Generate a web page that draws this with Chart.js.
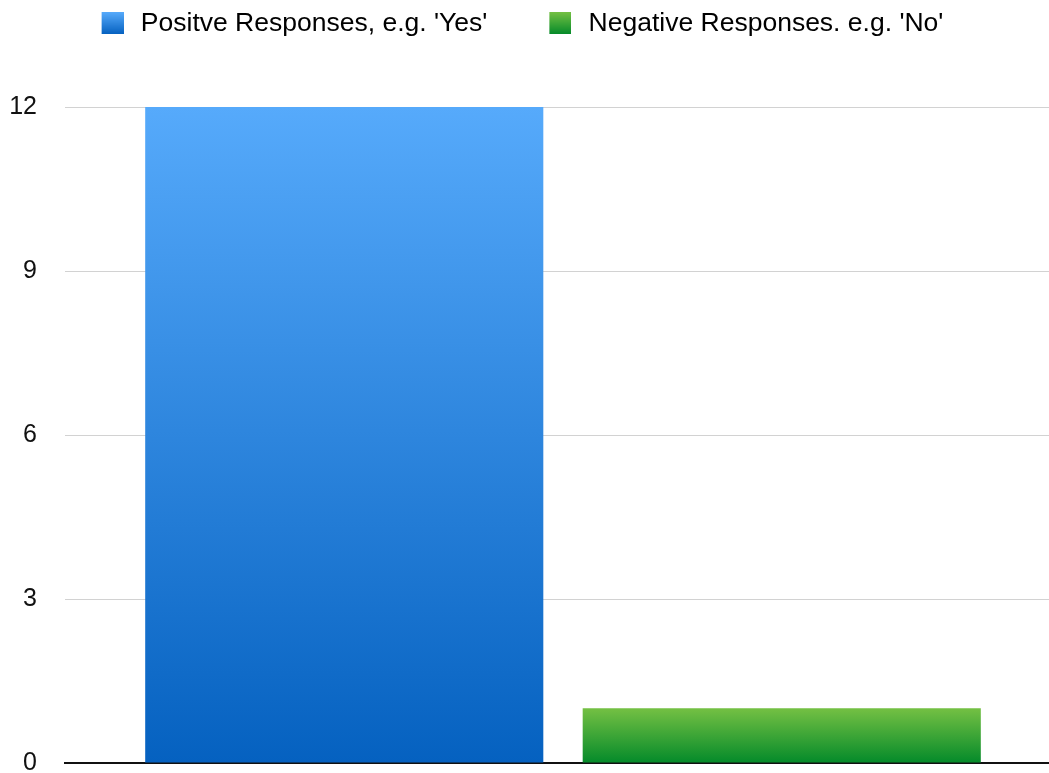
<!DOCTYPE html>
<html><head><meta charset="utf-8">
<script src="https://cdn.jsdelivr.net/npm/chart.js@4"></script>
<style>
html,body{margin:0;padding:0;background:#fff;overflow:hidden}
#wrap{position:relative;width:1049px;height:773px;overflow:hidden;background:#fff}
#c{position:absolute;left:-68px;top:0}
</style></head>
<body><div id="wrap"><canvas id="c" width="1129" height="773"></canvas></div>
<script>
const categories = [''];
const seriesLabels = ["Positve Responses, e.g. 'Yes'", "Negative Responses. e.g. 'No'"];
const positiveValues = [12];
const negativeValues = [1];
const yTickValues = [0, 3, 6, 9, 12];
const positiveColors = ['#56AAFB', '#0561C0'];
const negativeColors = ['#74C043', '#048A2A'];

function barGradient(cols) {
  return (ctx) => {
    const chart = ctx.chart;
    if (!chart.chartArea || !chart.scales.y) return cols[1];
    const ys = chart.scales.y;
    const y0 = ys.getPixelForValue(ctx.raw), y1 = ys.getPixelForValue(0);
    const g = chart.ctx.createLinearGradient(0, y0, 0, y1);
    g.addColorStop(0, cols[0]); g.addColorStop(1, cols[1]);
    return g;
  };
}
function legendImage(cols) {
  const c = document.createElement('canvas');
  c.width = 70; c.height = 22;
  const x = c.getContext('2d');
  const g = x.createLinearGradient(0, 0, 0, 22);
  g.addColorStop(0, cols[0]); g.addColorStop(1, cols[1]);
  x.fillStyle = g; x.fillRect(48, 0, 22, 22);
  return c;
}
const legendColors = [positiveColors, negativeColors];

Chart.defaults.font.family = '"Liberation Sans", Arial, sans-serif';
new Chart(document.getElementById('c'), {
  type: 'bar',
  data: {
    labels: categories,
    datasets: [
      {label: seriesLabels[0], data: positiveValues, backgroundColor: barGradient(positiveColors), categoryPercentage: 0.8785, barPercentage: 0.91},
      {label: seriesLabels[1], data: negativeValues, backgroundColor: barGradient(negativeColors), categoryPercentage: 0.8785, barPercentage: 0.91}
    ]
  },
  options: {
    responsive: false, animation: false, devicePixelRatio: 1,
    layout: {padding: {top: 0, left: 0, right: 0, bottom: 0}},
    plugins: {
      tooltip: {enabled: false},
      title: {display: true, text: '', weight: 500, font: {size: 10, lineHeight: 1}, padding: {top: 0, bottom: 50.5}},
      legend: {
        position: 'top',
        labels: {
          usePointStyle: true, pointStyleWidth: 78, padding: 10,
          color: '#1a1a1a', font: {size: 26.5},
          generateLabels: (chart) => chart.data.datasets.map((ds, i) => ({
            text: ds.label, pointStyle: legendImage(legendColors[i]),
            fillStyle: 'transparent', strokeStyle: 'transparent', lineWidth: 0,
            hidden: false, datasetIndex: i
          }))
        }
      }
    },
    scales: {
      x: {
        ticks: {display: false},
        grid: {display: false},
        border: {display: true, color: '#111', width: 2}
      },
      y: {
        min: 0, max: 12,
        afterBuildTicks: (s) => { s.ticks = yTickValues.map(v => ({value: v})); },
        ticks: {color: '#111', font: {size: 25}, padding: 28},
        grid: {color: '#d2d2d2', lineWidth: 1, drawTicks: false},
        border: {display: false},
        afterFit: (s) => { s.width = 133; s.paddingBottom = 10; }
      }
    }
  }
});
</script></body></html>
